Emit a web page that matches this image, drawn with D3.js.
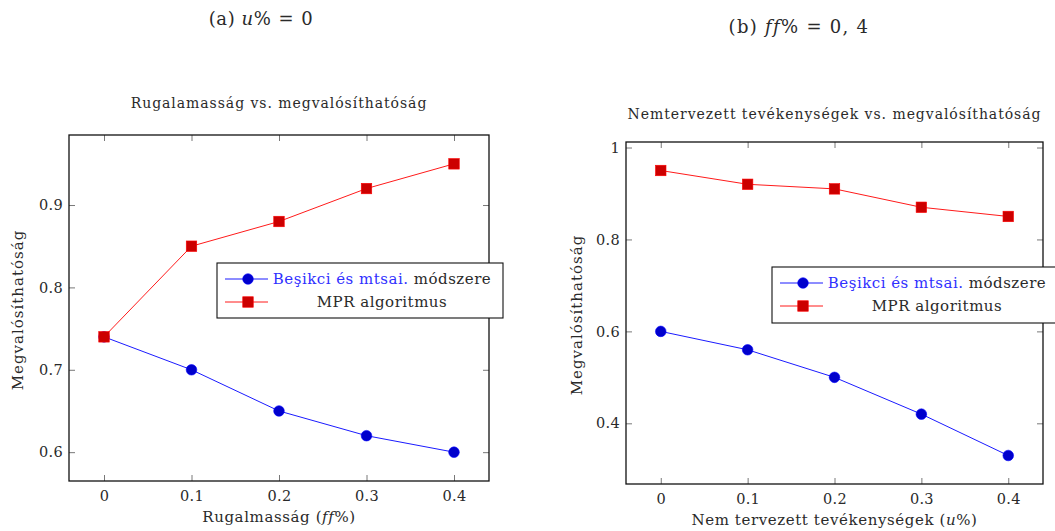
<!DOCTYPE html>
<html>
<head>
<meta charset="utf-8">
<script src="https://cdn.jsdelivr.net/npm/d3@7/dist/d3.min.js"></script>
<style>
  html, body { margin: 0; padding: 0; background: #fff; }
  svg text { font-family: "DejaVu Serif", serif; fill: #2a2a2a; }
</style>
</head>
<body>
<svg id="chart" width="1055" height="531"></svg>
<script>
// Shared x positions (fraction of activities)
const xValues = [0, 0.1, 0.2, 0.3, 0.4];
const xTickLabels = ["0", "0.1", "0.2", "0.3", "0.4"];

// Panel (a): flexibility vs. feasibility, u% = 0
const besikciA = [0.74, 0.70, 0.65, 0.62, 0.60];
const mprA = [0.74, 0.85, 0.88, 0.92, 0.95];
const yTicksA = [0.6, 0.7, 0.8, 0.9];
const yTickLabelsA = ["0.6", "0.7", "0.8", "0.9"];

// Panel (b): unplanned activities vs. feasibility, ff% = 0,4
const besikciB = [0.60, 0.56, 0.50, 0.42, 0.33];
const mprB = [0.95, 0.92, 0.91, 0.87, 0.85];
const yTicksB = [0.4, 0.6, 0.8, 1];
const yTickLabelsB = ["0.4", "0.6", "0.8", "1"];

const seriesNames = ["Beşikci és mtsai.", " módszere", "MPR algoritmus"];

const svg = d3.select("#chart");

const BLUE = "#0000ff", BLUE_FILL = "#0000cc";
const RED = "#ff0000", RED_FILL = "#cc0000";

// Axis range with 10% enlargement on each side, as pgfplots does
function enlarged(values) {
  const [lo, hi] = d3.extent(values);
  const pad = (hi - lo) * 0.1;
  return [lo - pad, hi + pad];
}

const panels = [
  {
    caption: { pre: "(a) ", math: "u", post: "%", rhs: "0", x: 261, y: 25, ls: 0.6 },
    title: "Rugalamasság vs. megvalósíthatóság", titleY: 108,
    box: { left: 69, right: 489, top: 135, bottom: 481 },
    blue: besikciA, red: mprA,
    yTicks: yTicksA, yTickLabels: yTickLabelsA,
    xLabel: { pre: "Rugalmasság (", math: "ff", post: "%)" }, xLabelY: 522,
    yLabelX: 23, yLabelMid: 310,
    legend: { x: 217, y: 263, w: 286, h: 55 }
  },
  {
    caption: { pre: "(b) ", math: "ff", post: "%", rhs: "0, 4", x: 799, y: 33, ls: 1.3 },
    title: "Nemtervezett tevékenységek vs. megvalósíthatóság", titleY: 119,
    box: { left: 626, right: 1043, top: 142, bottom: 484 },
    blue: besikciB, red: mprB,
    yTicks: yTicksB, yTickLabels: yTickLabelsB,
    xLabel: { pre: "Nem tervezett tevékenységek (", math: "u", post: "%)" }, xLabelY: 525,
    yLabelX: 582, yLabelMid: 315,
    legend: { x: 772, y: 267, w: 290, h: 56 }
  }
];

function mathText(sel, parts) {
  sel.append("tspan").text(parts.pre);
  sel.append("tspan").attr("font-style", "italic").text(parts.math);
  sel.append("tspan").text(parts.post);
}

panels.forEach(p => {
  const b = p.box;
  const x = d3.scaleLinear().domain(enlarged(xValues)).range([b.left, b.right]);
  const y = d3.scaleLinear().domain(enlarged(p.blue.concat(p.red))).range([b.bottom, b.top]);
  const g = svg.append("g");

  // caption above the panel
  const cap = g.append("text").attr("x", p.caption.x).attr("y", p.caption.y)
    .attr("text-anchor", "middle").attr("font-size", 18).attr("letter-spacing", p.caption.ls);
  mathText(cap, p.caption);
  cap.append("tspan").attr("dx", 7).text("=");
  cap.append("tspan").attr("dx", 7).text(p.caption.rhs);

  // plot title
  g.append("text").attr("x", (b.left + b.right) / 2).attr("y", p.titleY)
    .attr("text-anchor", "middle").attr("font-size", 14).attr("letter-spacing", 0.95)
    .text(p.title);

  // axes with inward ticks, mirrored on top and right
  const tickLen = 6;
  const fmtX = (d, i) => xTickLabels[i];
  const fmtY = (d, i) => p.yTickLabels[i];

  const axB = g.append("g").attr("transform", `translate(0,${b.bottom})`)
    .call(d3.axisBottom(x).tickValues(xValues).tickFormat(fmtX).tickSize(-tickLen).tickPadding(10));
  const axT = g.append("g").attr("transform", `translate(0,${b.top})`)
    .call(d3.axisTop(x).tickValues(xValues).tickFormat("").tickSize(-tickLen));
  const axL = g.append("g").attr("transform", `translate(${b.left},0)`)
    .call(d3.axisLeft(y).tickValues(p.yTicks).tickFormat(fmtY).tickSize(-tickLen).tickPadding(6));
  const axR = g.append("g").attr("transform", `translate(${b.right},0)`)
    .call(d3.axisRight(y).tickValues(p.yTicks).tickFormat("").tickSize(-tickLen));

  [axB, axT, axL, axR].forEach(a => {
    a.select(".domain").remove();
    a.selectAll(".tick line").attr("stroke", "#555").attr("stroke-width", 0.8);
    a.selectAll(".tick text").attr("font-family", "DejaVu Serif, serif")
      .attr("font-size", 14.5).attr("letter-spacing", 0.3).attr("fill", "#2a2a2a");
  });
  axB.selectAll(".tick text").attr("dy", "0.71em");

  // frame
  g.append("rect").attr("x", b.left).attr("y", b.top)
    .attr("width", b.right - b.left).attr("height", b.bottom - b.top)
    .attr("fill", "none").attr("stroke", "#111").attr("stroke-width", 1.3);

  // axis labels
  const xl = g.append("text").attr("x", (b.left + b.right) / 2).attr("y", p.xLabelY)
    .attr("text-anchor", "middle").attr("font-size", 15).attr("letter-spacing", 0.6);
  mathText(xl, p.xLabel);

  g.append("text")
    .attr("transform", `translate(${p.yLabelX},${p.yLabelMid}) rotate(-90)`)
    .attr("text-anchor", "middle").attr("font-size", 15).attr("letter-spacing", 1)
    .text("Megvalósíthatóság");

  const line = d3.line().x((d, i) => x(xValues[i])).y(d => y(d));

  // Beşikci series: blue line with filled circles
  g.append("path").datum(p.blue).attr("d", line)
    .attr("fill", "none").attr("stroke", BLUE).attr("stroke-width", 0.9);
  g.selectAll(".dotB").data(p.blue).enter().append("circle")
    .attr("cx", (d, i) => x(xValues[i])).attr("cy", d => y(d)).attr("r", 5.3)
    .attr("fill", BLUE_FILL).attr("stroke", BLUE).attr("stroke-width", 0.6);

  // MPR series: red line with filled squares
  g.append("path").datum(p.red).attr("d", line)
    .attr("fill", "none").attr("stroke", RED).attr("stroke-width", 0.9);
  const s = 10.5;
  g.selectAll(".sqR").data(p.red).enter().append("rect")
    .attr("x", (d, i) => x(xValues[i]) - s / 2).attr("y", d => y(d) - s / 2)
    .attr("width", s).attr("height", s)
    .attr("fill", RED_FILL).attr("stroke", RED).attr("stroke-width", 0.6);

  // legend
  const L = p.legend;
  const lg = g.append("g");
  lg.append("rect").attr("x", L.x).attr("y", L.y).attr("width", L.w).attr("height", L.h)
    .attr("fill", "#fff").attr("stroke", "#111").attr("stroke-width", 1.1);
  const row1 = L.y + 16, row2 = L.y + 39;
  const lx0 = L.x + 8, lx1 = L.x + 51, lm = L.x + 31;
  const textMid = L.x + 165;
  lg.append("line").attr("x1", lx0).attr("x2", lx1).attr("y1", row1).attr("y2", row1)
    .attr("stroke", BLUE).attr("stroke-width", 0.9);
  lg.append("circle").attr("cx", lm).attr("cy", row1).attr("r", 5.3)
    .attr("fill", BLUE_FILL).attr("stroke", BLUE).attr("stroke-width", 0.6);
  lg.append("line").attr("x1", lx0).attr("x2", lx1).attr("y1", row2).attr("y2", row2)
    .attr("stroke", RED).attr("stroke-width", 0.9);
  lg.append("rect").attr("x", lm - s / 2).attr("y", row2 - s / 2).attr("width", s).attr("height", s)
    .attr("fill", RED_FILL).attr("stroke", RED).attr("stroke-width", 0.6);
  const t1 = lg.append("text").attr("x", textMid).attr("y", row1 + 5)
    .attr("text-anchor", "middle").attr("font-size", 15).attr("letter-spacing", 0.5);
  t1.append("tspan").attr("fill", "#3030ff").style("fill", "#3030ff").text(seriesNames[0]);
  t1.append("tspan").text(seriesNames[1]);
  lg.append("text").attr("x", textMid).attr("y", row2 + 5)
    .attr("text-anchor", "middle").attr("font-size", 15).attr("letter-spacing", 0.5)
    .text(seriesNames[2]);
});
</script>
</body>
</html>
